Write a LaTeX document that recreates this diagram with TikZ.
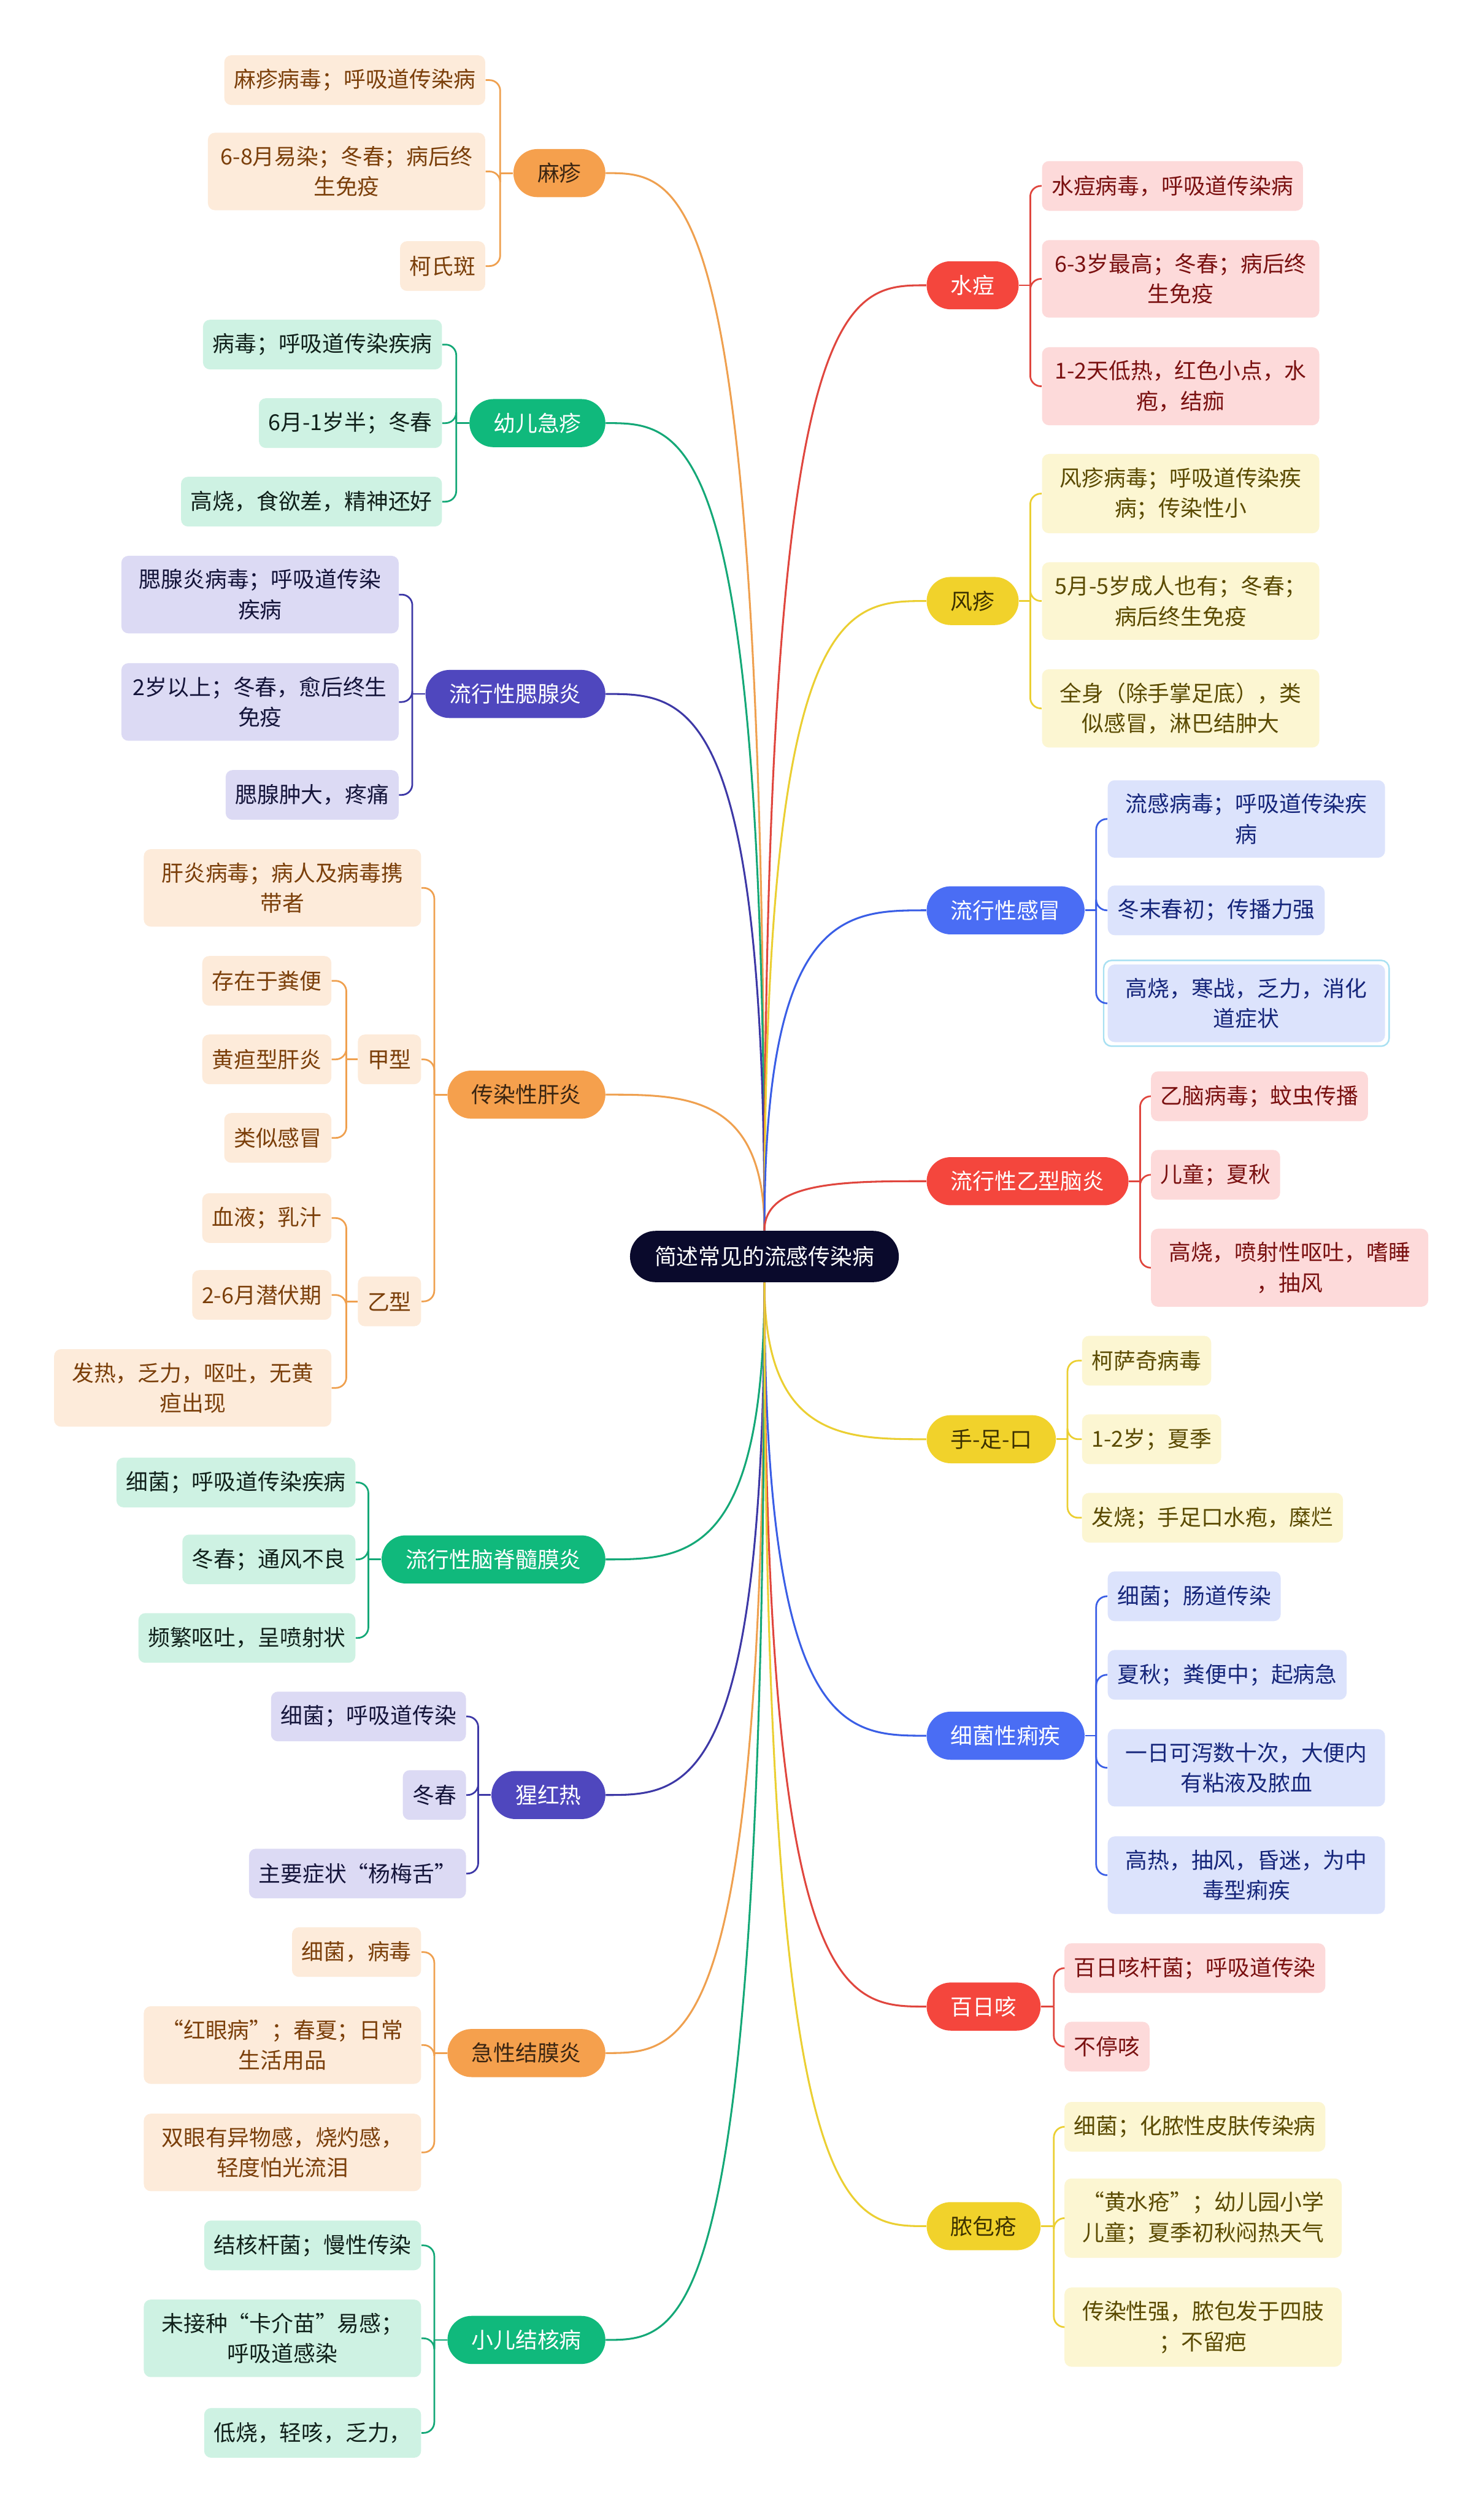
\documentclass[tikz,border=0pt]{standalone}
\usepackage{fontspec}
\setmainfont{Noto Sans CJK SC}
\usepackage{tikz}
\usetikzlibrary{calc}

\definecolor{cRoot}{HTML}{0A0A2C}
\definecolor{cOrTop}{HTML}{F5A04D}
\definecolor{cOrLeaf}{HTML}{FDEBDA}
\definecolor{cOrText}{HTML}{7B3F0A}
\definecolor{cOrDark}{HTML}{3A2512}
\definecolor{cOrLine}{HTML}{EFA04F}
\definecolor{cGrTop}{HTML}{10B97C}
\definecolor{cGrLeaf}{HTML}{CEF2E3}
\definecolor{cGrText}{HTML}{10201A}
\definecolor{cGrLine}{HTML}{14A877}
\definecolor{cInTop}{HTML}{4F47BE}
\definecolor{cInLeaf}{HTML}{DCDAF4}
\definecolor{cInText}{HTML}{14143A}
\definecolor{cInLine}{HTML}{3D38A6}
\definecolor{cRdTop}{HTML}{F4463D}
\definecolor{cRdLeaf}{HTML}{FDDADA}
\definecolor{cRdText}{HTML}{7A1010}
\definecolor{cRdLine}{HTML}{E0463E}
\definecolor{cYlTop}{HTML}{F1D22B}
\definecolor{cYlLeaf}{HTML}{FCF6D2}
\definecolor{cYlText}{HTML}{5A4A00}
\definecolor{cYlDark}{HTML}{3B3000}
\definecolor{cYlLine}{HTML}{EBCF32}
\definecolor{cBlTop}{HTML}{4A6DF4}
\definecolor{cBlLeaf}{HTML}{DCE3FC}
\definecolor{cBlText}{HTML}{15257A}
\definecolor{cBlLine}{HTML}{3A5EE6}
\definecolor{cSel}{HTML}{A8E0F2}

\begin{document}
\begin{tikzpicture}[
  x=0.03cm, y=-0.03cm,
  every node/.style={font=\fontsize{11.7}{16.2}\selectfont},
  root/.style={fill=cRoot, text=white, rounded corners=0.48cm, minimum height=0.96cm, inner xsep=0.46cm, inner ysep=0},
  topic/.style={rounded corners=0.45cm, minimum height=0.9cm, inner xsep=0.45cm, inner ysep=0},
  leaf/.style={rounded corners=0.13cm, minimum height=0.93cm, inner xsep=0.18cm, inner ysep=0.25cm, align=center},
  wide/.style={minimum width=5.19cm},
  orTop/.style={topic, fill=cOrTop, text=cOrDark},
  grTop/.style={topic, fill=cGrTop, text=white},
  inTop/.style={topic, fill=cInTop, text=white},
  rdTop/.style={topic, fill=cRdTop, text=white},
  ylTop/.style={topic, fill=cYlTop, text=cYlDark},
  blTop/.style={topic, fill=cBlTop, text=white},
  orBox/.style={leaf, fill=cOrLeaf, text=cOrText},
  grBox/.style={leaf, fill=cGrLeaf, text=cGrText},
  inBox/.style={leaf, fill=cInLeaf, text=cInText},
  rdBox/.style={leaf, fill=cRdLeaf, text=cRdText},
  ylBox/.style={leaf, fill=cYlLeaf, text=cYlText},
  blBox/.style={leaf, fill=cBlLeaf, text=cBlText},
  trunk/.style={line width=1pt, to path={.. controls (\tikztostart |- \tikztotarget) and ($(\tikztostart |- \tikztotarget)!0.5!(\tikztotarget)$) .. (\tikztotarget)}},
  bracket/.style={line width=0.9pt, rounded corners=0.2cm}
]
\fill[white] (0,0) rectangle (926,1568);
\useasboundingbox (0,0) rectangle (926,1568);

\node[root] (root) at (477,784) {简述常见的流感传染病};

% left side
\node[orTop, anchor=east] (mz) at (378,108) {麻疹};
\node[orBox, anchor=east] (mz1) at (303,50) {麻疹病毒；呼吸道传染病};
\node[orBox, wide, anchor=east] (mz2) at (303,107) {6-8月易染；冬春；病后终\\生免疫};
\node[orBox, anchor=east] (mz3) at (303,166) {柯氏斑};

\node[grTop, anchor=east] (yj) at (378,264) {幼儿急疹};
\node[grBox, anchor=east] (yj1) at (276,215) {病毒；呼吸道传染疾病};
\node[grBox, anchor=east] (yj2) at (276,264) {6月-1岁半；冬春};
\node[grBox, anchor=east] (yj3) at (276,313) {高烧，食欲差，精神还好};

\node[inTop, anchor=east] (sx) at (378,433) {流行性腮腺炎};
\node[inBox, wide, anchor=east] (sx1) at (249,371) {腮腺炎病毒；呼吸道传染\\疾病};
\node[inBox, wide, anchor=east] (sx2) at (249,438) {2岁以上；冬春，愈后终生\\免疫};
\node[inBox, anchor=east] (sx3) at (249,496) {腮腺肿大，疼痛};

\node[orTop, anchor=east] (gy) at (378,683) {传染性肝炎};
\node[orBox, wide, anchor=east] (gy1) at (263,554) {肝炎病毒；病人及病毒携\\带者};
\node[orBox, anchor=east] (ja) at (263,661) {甲型};
\node[orBox, anchor=east] (yx) at (263,812) {乙型};
\node[orBox, anchor=east] (ja1) at (207,612) {存在于粪便};
\node[orBox, anchor=east] (ja2) at (207,661) {黄疸型肝炎};
\node[orBox, anchor=east] (ja3) at (207,710) {类似感冒};
\node[orBox, anchor=east] (yx1) at (207,760) {血液；乳汁};
\node[orBox, anchor=east] (yx2) at (207,808) {2-6月潜伏期};
\node[orBox, wide, anchor=east] (yx3) at (207,866) {发热，乏力，呕吐，无黄\\疸出现};

\node[grTop, anchor=east] (nj) at (378,973) {流行性脑脊髓膜炎};
\node[grBox, anchor=east] (nj1) at (222,925) {细菌；呼吸道传染疾病};
\node[grBox, anchor=east] (nj2) at (222,973) {冬春；通风不良};
\node[grBox, anchor=east] (nj3) at (222,1022) {频繁呕吐，呈喷射状};

\node[inTop, anchor=east] (xh) at (378,1120) {猩红热};
\node[inBox, anchor=east] (xh1) at (291,1071) {细菌；呼吸道传染};
\node[inBox, anchor=east] (xh2) at (291,1120) {冬春};
\node[inBox, anchor=east] (xh3) at (291,1169) {主要症状“杨梅舌”};

\node[orTop, anchor=east] (jm) at (378,1281) {急性结膜炎};
\node[orBox, anchor=east] (jm1) at (263,1218) {细菌，病毒};
\node[orBox, wide, anchor=east] (jm2) at (263,1276) {“红眼病”；春夏；日常\\生活用品};
\node[orBox, wide, anchor=east] (jm3) at (263,1343) {双眼有异物感，烧灼感，\\轻度怕光流泪};

\node[grTop, anchor=east] (jh) at (378,1460) {小儿结核病};
\node[grBox, anchor=east] (jh1) at (263,1401) {结核杆菌；慢性传染};
\node[grBox, wide, anchor=east] (jh2) at (263,1459) {未接种“卡介苗”易感；\\呼吸道感染};
\node[grBox, anchor=east] (jh3) at (263,1518) {低烧，轻咳，乏力，};

% right side
\node[rdTop, anchor=west] (sd) at (578,178) {水痘};
\node[rdBox, anchor=west] (sd1) at (650,116) {水痘病毒，呼吸道传染病};
\node[rdBox, wide, anchor=west] (sd2) at (650,174) {6-3岁最高；冬春；病后终\\生免疫};
\node[rdBox, wide, anchor=west] (sd3) at (650,241) {1-2天低热，红色小点，水\\疱，结痂};

\node[ylTop, anchor=west] (fz) at (578,375) {风疹};
\node[ylBox, wide, anchor=west] (fz1) at (650,308) {风疹病毒；呼吸道传染疾\\病；传染性小};
\node[ylBox, wide, anchor=west] (fz2) at (650,375) {5月-5岁成人也有；冬春；\\病后终生免疫};
\node[ylBox, wide, anchor=west] (fz3) at (650,442) {全身（除手掌足底），类\\似感冒，淋巴结肿大};

\node[blTop, anchor=west] (lg) at (578,568) {流行性感冒};
\node[blBox, wide, anchor=west] (lg1) at (691,511) {流感病毒；呼吸道传染疾\\病};
\node[blBox, anchor=west] (lg2) at (691,568) {冬末春初；传播力强};
\node[blBox, wide, anchor=west] (lg3) at (691,626) {高烧，寒战，乏力，消化\\道症状};
\draw[cSel, line width=0.8pt, rounded corners=0.15cm] ([shift={(-0.07cm,0.07cm)}]lg3.north west) rectangle ([shift={(0.07cm,-0.07cm)}]lg3.south east);

\node[rdTop, anchor=west] (yn) at (578,737) {流行性乙型脑炎};
\node[rdBox, anchor=west] (yn1) at (718,684) {乙脑病毒；蚊虫传播};
\node[rdBox, anchor=west] (yn2) at (718,733) {儿童；夏秋};
\node[rdBox, wide, anchor=west] (yn3) at (718,791) {高烧，喷射性呕吐，嗜睡\\，抽风};

\node[ylTop, anchor=west] (sz) at (578,898) {手-足-口};
\node[ylBox, anchor=west] (sz1) at (675,849) {柯萨奇病毒};
\node[ylBox, anchor=west] (sz2) at (675,898) {1-2岁；夏季};
\node[ylBox, anchor=west] (sz3) at (675,947) {发烧；手足口水疱，糜烂};

\node[blTop, anchor=west] (lj) at (578,1083) {细菌性痢疾};
\node[blBox, anchor=west] (lj1) at (691,996) {细菌；肠道传染};
\node[blBox, anchor=west] (lj2) at (691,1045) {夏秋；粪便中；起病急};
\node[blBox, wide, anchor=west] (lj3) at (691,1103) {一日可泻数十次，大便内\\有粘液及脓血};
\node[blBox, wide, anchor=west] (lj4) at (691,1170) {高热，抽风，昏迷，为中\\毒型痢疾};

\node[rdTop, anchor=west] (br) at (578,1252) {百日咳};
\node[rdBox, anchor=west] (br1) at (664,1228) {百日咳杆菌；呼吸道传染};
\node[rdBox, anchor=west] (br2) at (664,1277) {不停咳};

\node[ylTop, anchor=west] (nb) at (578,1389) {脓包疮};
\node[ylBox, anchor=west] (nb1) at (664,1327) {细菌；化脓性皮肤传染病};
\node[ylBox, wide, anchor=west] (nb2) at (664,1384) {“黄水疮”；幼儿园小学\\儿童；夏季初秋闷热天气};
\node[ylBox, wide, anchor=west] (nb3) at (664,1452) {传染性强，脓包发于四肢\\；不留疤};

% trunk lines
\draw[cOrLine, trunk] (root.north) to (mz.east);
\draw[cGrLine, trunk] (root.north) to (yj.east);
\draw[cInLine, trunk] (root.north) to (sx.east);
\draw[cOrLine, trunk] (root.north) to (gy.east);
\draw[cGrLine, trunk] (root.south) to (nj.east);
\draw[cInLine, trunk] (root.south) to (xh.east);
\draw[cOrLine, trunk] (root.south) to (jm.east);
\draw[cGrLine, trunk] (root.south) to (jh.east);
\draw[cRdLine, trunk] (root.north) to (sd.west);
\draw[cYlLine, trunk] (root.north) to (fz.west);
\draw[cBlLine, trunk] (root.north) to (lg.west);
\draw[cRdLine, trunk] (root.north) to (yn.west);
\draw[cYlLine, trunk] (root.south) to (sz.west);
\draw[cBlLine, trunk] (root.south) to (lj.west);
\draw[cRdLine, trunk] (root.south) to (br.west);
\draw[cYlLine, trunk] (root.south) to (nb.west);

% brackets to leaves
\draw[cOrLine, bracket] (mz.west) -- ++(-8,0) coordinate (mzb);
\foreach \k in {mz1,mz2,mz3} \draw[cOrLine, bracket] (mzb) |- (\k.east);
\draw[cGrLine, bracket] (yj.west) -- ++(-8,0) coordinate (yjb);
\foreach \k in {yj1,yj2,yj3} \draw[cGrLine, bracket] (yjb) |- (\k.east);
\draw[cInLine, bracket] (sx.west) -- ++(-8,0) coordinate (sxb);
\foreach \k in {sx1,sx2,sx3} \draw[cInLine, bracket] (sxb) |- (\k.east);
\draw[cOrLine, bracket] (gy.west) -- ++(-8,0) coordinate (gyb);
\foreach \k in {gy1,ja,yx} \draw[cOrLine, bracket] (gyb) |- (\k.east);
\draw[cOrLine, bracket] (ja.west) -- ++(-7,0) coordinate (jab);
\foreach \k in {ja1,ja2,ja3} \draw[cOrLine, bracket] (jab) |- (\k.east);
\draw[cOrLine, bracket] (yx.west) -- ++(-7,0) coordinate (yxb);
\foreach \k in {yx1,yx2,yx3} \draw[cOrLine, bracket] (yxb) |- (\k.east);
\draw[cGrLine, bracket] (nj.west) -- ++(-8,0) coordinate (njb);
\foreach \k in {nj1,nj2,nj3} \draw[cGrLine, bracket] (njb) |- (\k.east);
\draw[cInLine, bracket] (xh.west) -- ++(-8,0) coordinate (xhb);
\foreach \k in {xh1,xh2,xh3} \draw[cInLine, bracket] (xhb) |- (\k.east);
\draw[cOrLine, bracket] (jm.west) -- ++(-8,0) coordinate (jmb);
\foreach \k in {jm1,jm2,jm3} \draw[cOrLine, bracket] (jmb) |- (\k.east);
\draw[cGrLine, bracket] (jh.west) -- ++(-8,0) coordinate (jhb);
\foreach \k in {jh1,jh2,jh3} \draw[cGrLine, bracket] (jhb) |- (\k.east);
\draw[cRdLine, bracket] (sd.east) -- ++(7,0) coordinate (sdb);
\foreach \k in {sd1,sd2,sd3} \draw[cRdLine, bracket] (sdb) |- (\k.west);
\draw[cYlLine, bracket] (fz.east) -- ++(7,0) coordinate (fzb);
\foreach \k in {fz1,fz2,fz3} \draw[cYlLine, bracket] (fzb) |- (\k.west);
\draw[cBlLine, bracket] (lg.east) -- ++(7,0) coordinate (lgb);
\foreach \k in {lg1,lg2,lg3} \draw[cBlLine, bracket] (lgb) |- (\k.west);
\draw[cRdLine, bracket] (yn.east) -- ++(7,0) coordinate (ynb);
\foreach \k in {yn1,yn2,yn3} \draw[cRdLine, bracket] (ynb) |- (\k.west);
\draw[cYlLine, bracket] (sz.east) -- ++(7,0) coordinate (szb);
\foreach \k in {sz1,sz2,sz3} \draw[cYlLine, bracket] (szb) |- (\k.west);
\draw[cBlLine, bracket] (lj.east) -- ++(7,0) coordinate (ljb);
\foreach \k in {lj1,lj2,lj3,lj4} \draw[cBlLine, bracket] (ljb) |- (\k.west);
\draw[cRdLine, bracket] (br.east) -- ++(8,0) coordinate (brb);
\foreach \k in {br1,br2} \draw[cRdLine, bracket] (brb) |- (\k.west);
\draw[cYlLine, bracket] (nb.east) -- ++(8,0) coordinate (nbb);
\foreach \k in {nb1,nb2,nb3} \draw[cYlLine, bracket] (nbb) |- (\k.west);
\end{tikzpicture}
\end{document}
